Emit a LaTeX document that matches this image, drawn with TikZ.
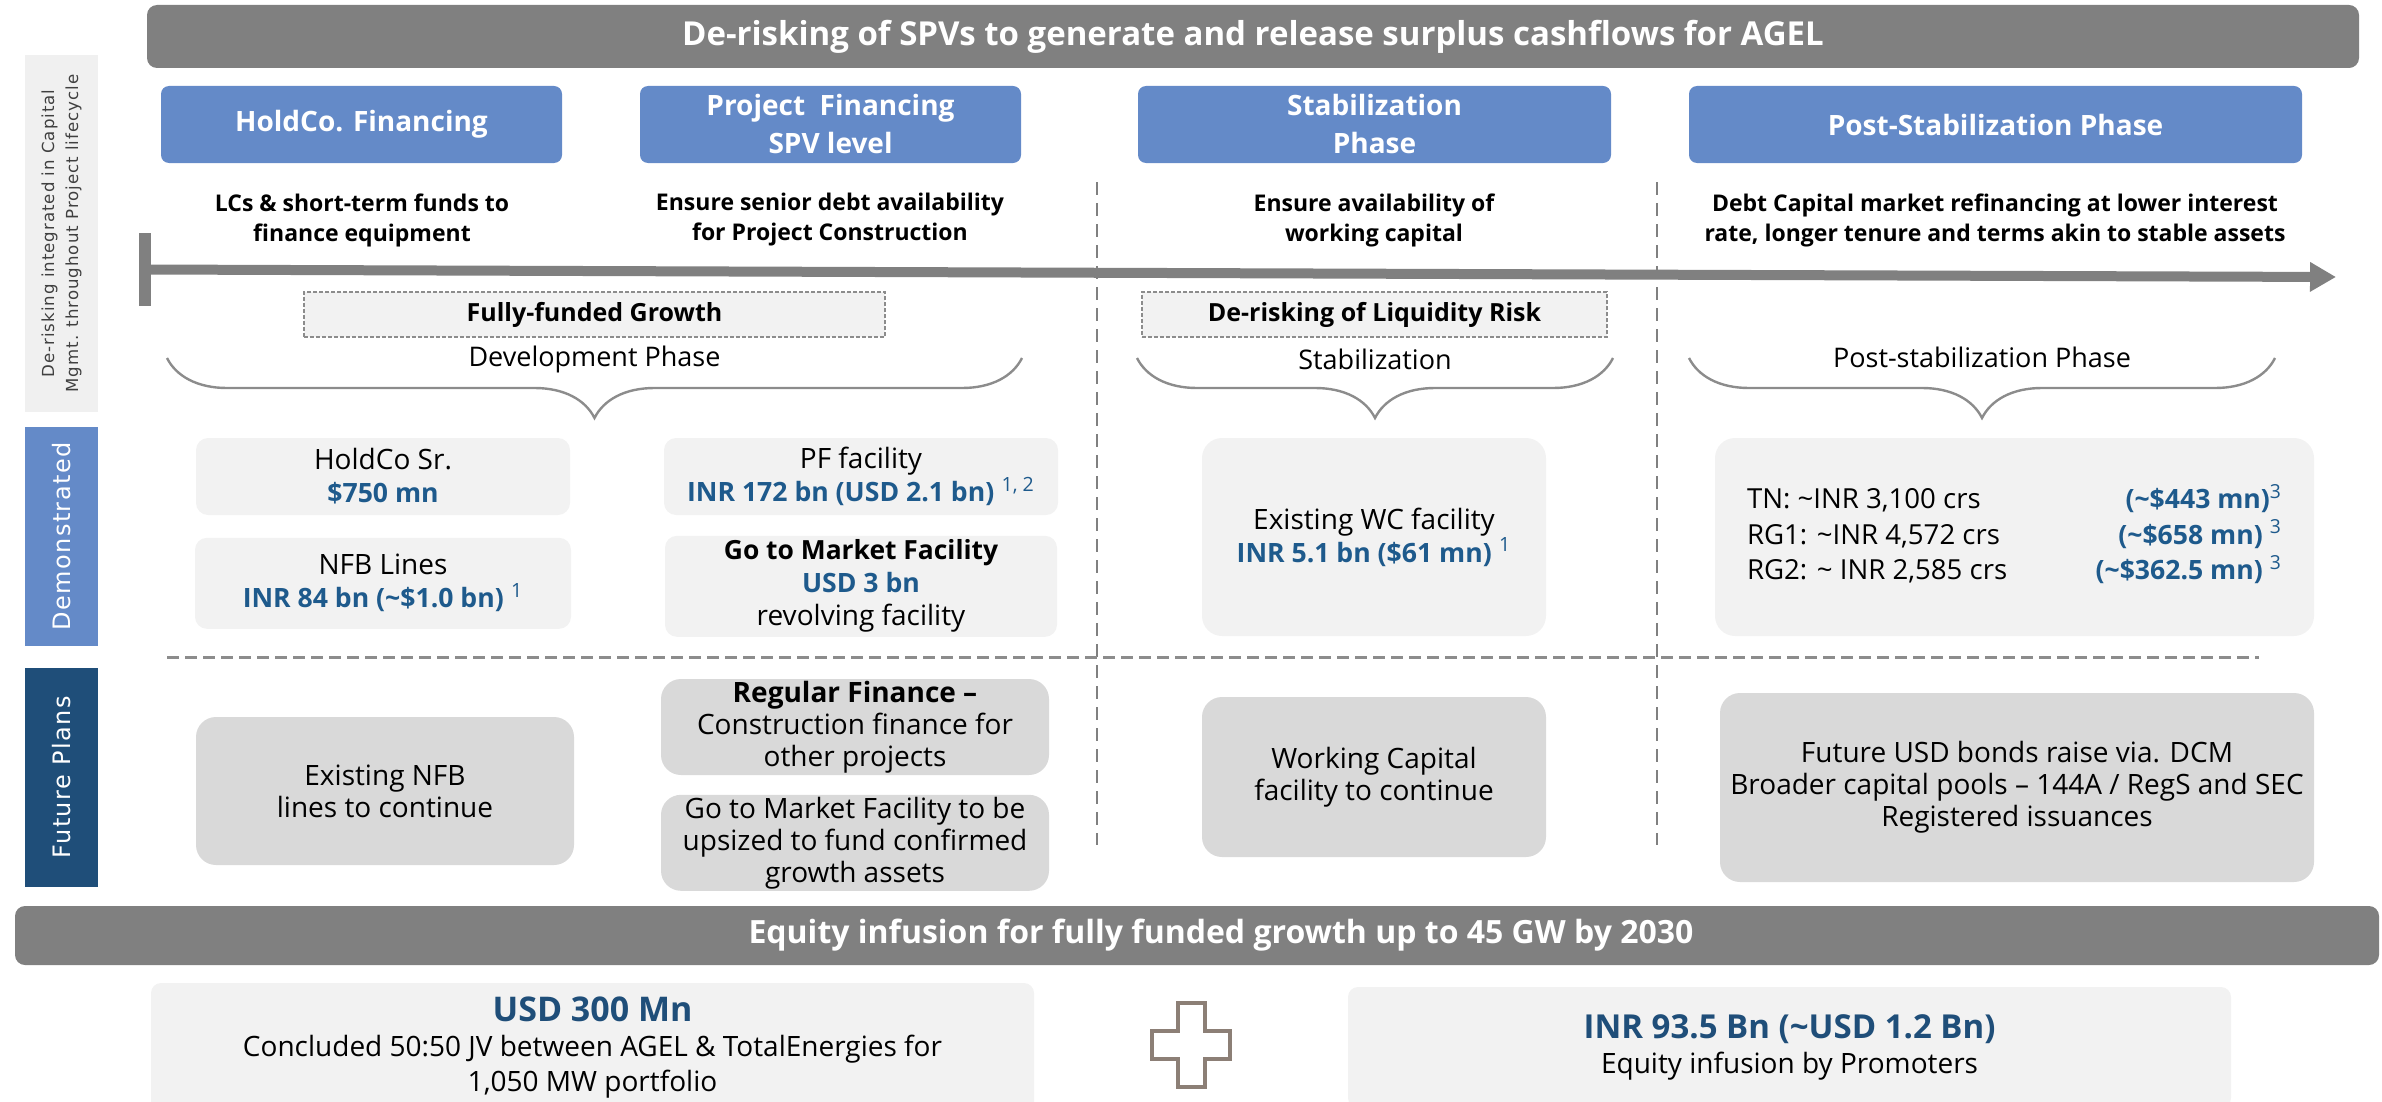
\documentclass[tikz,border=0pt]{standalone}
\usepackage{fontspec}
\setmainfont{Open Sans}
\newfontfamily\sidefont[LetterSpace=6]{DejaVu Sans}
\usetikzlibrary{positioning,arrows.meta,decorations.pathreplacing}
\definecolor{bargrey}{RGB}{128,128,128}
\definecolor{hdrblue}{RGB}{100,138,200}
\definecolor{futblue}{RGB}{31,78,121}
\definecolor{numblue}{RGB}{30,90,140}
\definecolor{boxlight}{RGB}{242,242,242}
\definecolor{boxdark}{RGB}{217,217,217}
\definecolor{sidegrey}{RGB}{240,240,240}
\definecolor{lineg}{RGB}{140,140,140}
\definecolor{plusbrown}{RGB}{140,127,118}
\newcommand{\amt}[1]{{\color{numblue}\bfseries\fontsize{13.3}{16}\selectfont #1}}
\newcommand{\amtsup}[1]{\textcolor{numblue}{\textsuperscript{#1}}}

\begin{document}
\begin{tikzpicture}[x=0.5pt,y=-0.5pt,
	bar/.style={fill=bargrey, rounded corners=5pt, inner sep=0pt},
	hdr/.style={fill=hdrblue, rounded corners=4pt, text=white, align=center, minimum height=38.5pt, font=\bfseries\fontsize{14}{19}\selectfont},
	desc/.style={align=center, font=\bfseries\fontsize{11.5}{15}\selectfont},
	sidebox/.style={rotate=90, minimum height=36.5pt, text=white, inner sep=0pt, font=\sidefont\fontsize{12}{14}\selectfont},
	tagbox/.style={draw=lineg, dashed, dash pattern=on 2pt off 1pt, line width=0.8pt, fill=boxlight, minimum height=22.5pt, font=\bfseries\fontsize{12.5}{14}\selectfont},
	phase/.style={font=\fontsize{13.5}{15}\selectfont},
	phasebrace/.style={draw=lineg, line width=1.2pt, decorate, decoration={brace, mirror, amplitude=30pt}},
	demobox/.style={fill=boxlight, rounded corners=6pt, inner ysep=0pt, align=center, font=\fontsize{14}{16.5}\selectfont},
	futbox/.style={fill=boxdark, rounded corners=10pt, inner ysep=0pt, align=center, font=\fontsize{14}{16}\selectfont},
	sep/.style={draw=lineg, dashed, dash pattern=on 6pt off 3pt, line width=1.5pt},
	vsep/.style={draw=bargrey, dash pattern=on 6.5pt off 4pt, line width=0.7pt},
	basebox/.style={fill=boxlight, rounded corners=5pt, align=center, font=\fontsize{14}{17.5}\selectfont}
	]

	\useasboundingbox (0,0) rectangle (2382,1102);

	\node[bar, minimum width=1106pt, minimum height=31.5pt, text=white, font=\bfseries\fontsize{16.5}{18}\selectfont] (title) at (1253,36.5) {De-risking of SPVs to generate and release surplus cashflows for AGEL};

	\node[sidebox, fill=sidegrey, text=black!75, minimum width=178.5pt, align=center, font=\sidefont\fontsize{8.3}{12}\selectfont] (lifecycle) at (61.5,233.5) {De-risking integrated in Capital\\Mgmt. throughout Project lifecycle};
	\node[sidebox, fill=hdrblue, minimum width=109.5pt] (demo) at (61.5,536.5) {Demonstrated};
	\node[sidebox, fill=futblue, minimum width=109.5pt] (future) at (61.5,777.5) {Future Plans};

	\node[hdr, minimum width=200.5pt] (holdco) at (361.5,124.5) {HoldCo. Financing};
	\node[hdr, minimum width=190.5pt] (projfin) at (830.5,124.5) {Project\ \ Financing\\SPV level};
	\node[hdr, minimum width=236.5pt] (stab) at (1374.5,124.5) {Stabilization\\Phase};
	\node[hdr, minimum width=306.5pt] (poststab) at (1995.5,124.5) {Post-Stabilization Phase};

	\node[desc] (holdcodesc) at (362,220) {LCs \& short-term funds to\\finance equipment};
	\node[desc] (projfindesc) at (830,220) {Ensure senior debt availability\\for Project Construction};
	\node[desc] (stabdesc) at (1374,220) {Ensure availability of\\working capital};
	\node[desc] (poststabdesc) at (1995,220) {Debt Capital market refinancing at lower interest\\rate, longer tenure and terms akin to stable assets};

	\node[fill=bargrey, minimum width=6pt, minimum height=36.5pt, inner sep=0pt] (tstart) at (145,269.5) {};
	\coordinate (tend) at (2336,277);
	\draw[bargrey, line width=5pt, -{Triangle[length=13pt,width=14pt]}] (tstart.center) -- (tend);

	\coordinate (v1top) at (1097,182);
	\coordinate (v1bot) at (1097,845);
	\coordinate (v2top) at (1657,182);
	\coordinate (v2bot) at (1657,845);
	\draw[vsep] (v1top) -- (v1bot);
	\draw[vsep] (v2top) -- (v2bot);

	\node[tagbox, minimum width=290.5pt] (growth) at (594.5,314.5) {Fully-funded Growth};
	\node[tagbox, minimum width=232.5pt] (liquidity) at (1374.5,314.5) {De-risking of Liquidity Risk};

	\coordinate (devl) at (167,358);
	\coordinate (devr) at (1022,358);
	\coordinate (stabl) at (1137,358);
	\coordinate (stabr) at (1613,358);
	\coordinate (postl) at (1689,358);
	\coordinate (postr) at (2275,358);
	\draw[phasebrace] (devl) -- (devr);
	\draw[phasebrace] (stabl) -- (stabr);
	\draw[phasebrace] (postl) -- (postr);
	\node[phase] (devphase) at (594.5,359) {Development Phase};
	\node[phase] (stabphase) at (1375,359) {Stabilization};
	\node[phase] (postphase) at (1982,357) {Post-stabilization Phase};

	\node[demobox, minimum width=187pt, minimum height=38.5pt] (holdcosr) at (383,476.5) {HoldCo Sr.\\\amt{\$750 mn}};
	\node[demobox, minimum width=188pt, minimum height=45.5pt] (nfb) [below=11pt of holdcosr] {NFB Lines\\\amt{INR 84 bn (\textasciitilde\$1.0 bn)} \amtsup{1}};
	\node[demobox, minimum width=197pt, minimum height=38.5pt, inner xsep=2pt] (pf) at (861,476.5) {PF facility\\\amt{INR 172 bn (USD 2.1 bn)} \amtsup{1, 2}};
	\node[demobox, minimum width=196pt, minimum height=50.5pt] (gtm) [below=10pt of pf] {{\bfseries\fontsize{13.2}{16.5}\selectfont Go to Market Facility}\\\amt{USD 3 bn}\\revolving facility};
	\node[demobox, rounded corners=10pt, minimum width=172pt, minimum height=99pt] (wc) at (1374,537) {Existing WC facility\\\amt{INR 5.1 bn (\$61 mn)} \amtsup{1}};
	\node[demobox, rounded corners=10pt, minimum width=299.5pt, minimum height=99pt, font=\fontsize{13.8}{17.75}\selectfont] (tn) at (2014.5,537) {\begin{tabular*}{267.5pt}{@{}l@{\extracolsep{\fill}}r@{}}
		TN: \textasciitilde INR 3,100 crs & \amt{(\textasciitilde\$443 mn)}\amtsup{3}\\
		RG1: \textasciitilde INR 4,572 crs & \amt{(\textasciitilde\$658 mn)} \amtsup{3}\\
		RG2: \textasciitilde\ INR 2,585 crs & \amt{(\textasciitilde\$362.5 mn)} \amtsup{3}
	\end{tabular*}};

	\coordinate (sepl) at (167,657);
	\coordinate (sepr) at (2259,657);
	\draw[sep] (sepl) -- (sepr);

	\node[futbox, minimum width=189pt, minimum height=74pt] (nfbcont) at (385,791) {Existing NFB\\lines to continue};
	\node[futbox, minimum width=194pt, minimum height=48pt] (regfin) at (855,727) {\textbf{Regular Finance –}\\Construction finance for\\other projects};
	\node[futbox, minimum width=194pt, minimum height=48pt] (upsize) [below=9.5pt of regfin] {Go to Market Facility to be\\upsized to fund confirmed\\growth assets};
	\node[futbox, minimum width=172pt, minimum height=80pt] (wccont) at (1374,777) {Working Capital\\facility to continue};
	\node[futbox, minimum width=297pt, minimum height=94.5pt] (bonds) at (2017,787.5) {Future USD bonds raise via. DCM\\Broader capital pools – 144A / RegS and SEC\\Registered issuances};

	\node[bar, minimum width=1182pt, minimum height=29.5pt] (equity) at (1197,935.5) {};
	\node[text=white, font=\bfseries\fontsize{16}{18}\selectfont] (equitytxt) at (1221,935.5) {Equity infusion for fully funded growth up to 45 GW by 2030};

	\node[basebox, minimum width=441.5pt, minimum height=64.5pt] (jv) at (592.5,1047.5) {{\color{futblue}\bfseries\fontsize{17}{17.5}\selectfont USD 300 Mn}\\Concluded 50:50 JV between AGEL \& TotalEnergies for\\1,050 MW portfolio};
	\node[basebox, minimum width=441.5pt, minimum height=60.5pt] (promoters) at (1789.5,1047.5) {{\color{futblue}\bfseries\fontsize{16.5}{17.5}\selectfont INR 93.5 Bn (\textasciitilde USD 1.2 Bn)}\\Equity infusion by Promoters};

	\draw[draw=plusbrown, fill=white, line width=2pt] (1178,1003) -- (1205,1003) -- (1205,1031) -- (1230,1031) -- (1230,1059) -- (1205,1059) -- (1205,1087) -- (1178,1087) -- (1178,1059) -- (1152,1059) -- (1152,1031) -- (1178,1031) -- cycle;

\end{tikzpicture}
\end{document}
